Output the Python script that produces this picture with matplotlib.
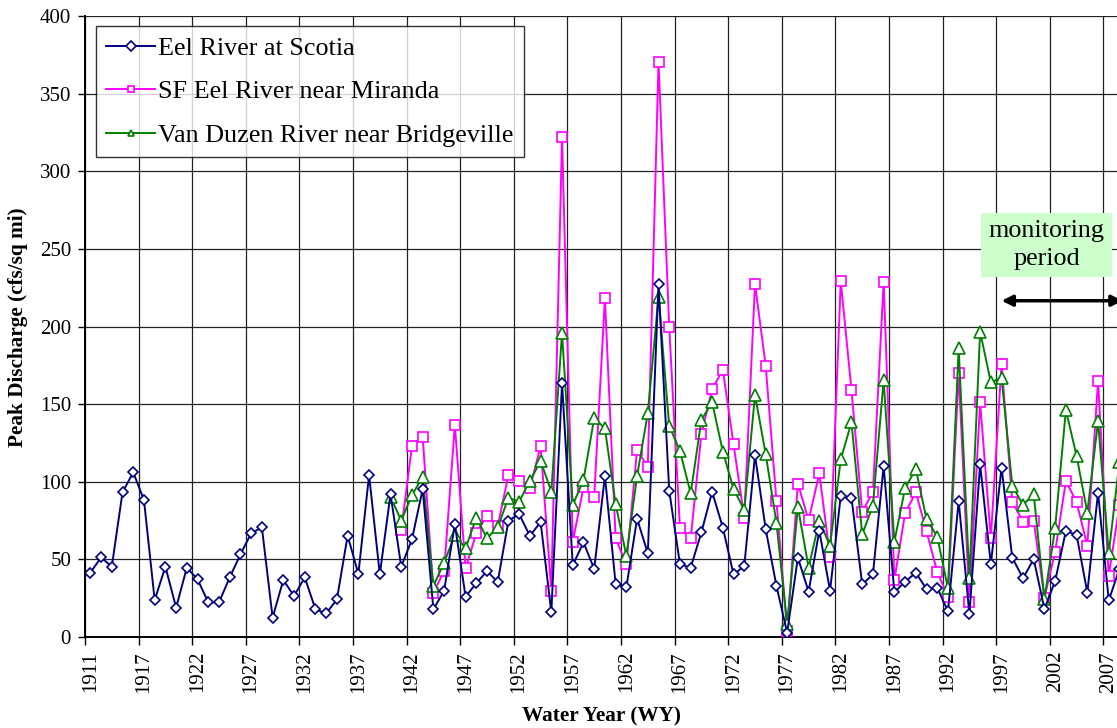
import numpy as np
import matplotlib
matplotlib.use('Agg')
import matplotlib.pyplot as plt

plt.rcParams['font.family'] = ['Liberation Serif', 'DejaVu Serif']

# Water years (1912 has no record, so the category list skips it)
years = [1911] + list(range(1913, 2009))

eel_scotia = [41.4, 51.3, 45.3, 93.2, 106.1, 88.2, 23.8, 45.3, 18.9, 44.7,
              37.1, 22.3, 22.3, 38.4, 53.2, 66.8, 70.6, 12.5, 36.7, 26.4,
              38.4, 17.8, 15.2, 24.2, 65.3, 40.6, 104.3, 40.3, 92.1, 45.3,
              62.9, 95.3, 17.8, 29.8, 72.6, 26.0, 34.6, 42.5, 35.4, 74.9,
              79.2, 65.1, 74.1, 15.9, 163.4, 46.2, 61.0, 43.8, 103.7, 34.1,
              32.0, 76.2, 53.9, 227.4, 94.2, 46.8, 44.7, 67.4, 93.6, 70.4,
              40.3, 45.7, 117.0, 69.4, 32.9, 2.8, 51.1, 29.2, 68.5, 29.8,
              91.0, 89.7, 33.9, 40.3, 110.1, 28.8, 35.6, 41.4, 30.9, 31.8,
              16.5, 87.6, 14.6, 111.2, 46.8, 109.1, 51.1, 37.8, 50.2, 18.0,
              36.1, 68.3, 65.7, 28.6, 93.0, 23.6, 44.0]

sf_eel_miranda = [np.nan] * 29 + [
              68.9, 123.0, 129.0, 28.6, 42.5, 136.6, 44.2, 66.8, 78.2, 71.5,
              104.3, 100.5, 95.8, 123.0, 29.8, 322.0, 61.4, 96.4, 90.4, 218.1,
              63.6, 46.8, 120.4, 109.7, 370.4, 199.5, 70.0, 63.6, 130.8, 159.7,
              172.0, 124.1, 76.9, 227.4, 174.6, 87.6, 3.9, 98.8, 75.1, 105.4,
              51.7, 229.3, 159.1, 80.7, 93.2, 228.7, 36.7, 79.7, 93.2, 68.1,
              41.9, 26.0, 170.3, 22.3, 151.2, 63.6, 176.0, 87.2, 74.3, 74.7,
              25.3, 55.0, 100.5, 86.8, 58.8, 164.9, 39.4, 85.0]

van_duzen = [np.nan] * 28 + [
              90.4, 74.9, 91.5, 102.9, 32.9, 47.9, 65.7, 57.1, 76.9, 63.6,
              70.6, 89.7, 87.2, 100.5, 113.4, 93.6, 196.0, 85.0, 101.1, 140.9,
              134.4, 85.5, 52.4, 103.7, 144.1, 219.2, 135.9, 119.8, 92.5, 139.8,
              151.2, 119.4, 95.3, 81.8, 155.9, 117.7, 73.6, 8.4, 83.9, 44.7,
              74.9, 58.8, 114.4, 138.3, 66.1, 84.6, 165.5, 61.4, 95.8, 108.2,
              76.0, 64.6, 31.3, 186.0, 37.8, 196.7, 164.0, 167.0, 97.5, 85.0,
              91.9, 24.5, 70.4, 146.2, 116.6, 80.1, 139.1, 53.9, 113.0]

x = np.arange(len(years))

fig = plt.figure(figsize=(11.17, 7.28), dpi=100)
W, H = 1117, 728
ax = fig.add_axes([85 / W, (H - 637) / H, (W - 85) / W, 621 / H])

ax.plot(x, eel_scotia, color='#000080', lw=1.4, marker='D', ms=5.5,
        mfc='white', mec='#000080', mew=1.2, label='Eel River at Scotia', zorder=5)
ax.plot(x, sf_eel_miranda, color='#FF00FF', lw=1.4, marker='s', ms=7.5,
        mfc='white', mec='#FF00FF', mew=1.2, label='SF Eel River near Miranda', zorder=3)
ax.plot(x, van_duzen, color='#008000', lw=1.4, marker='^', ms=8,
        mfc='white', mec='#008000', mew=1.2, label='Van Duzen River near Bridgeville', zorder=4)

# category axis: gridlines between categories every 5 years, labels on the category
ax.set_xlim(-0.5, (W - 85) / 10.72 - 0.5)
ax.set_ylim(0, 400)
bounds = np.arange(-0.5, len(years), 5)
ax.set_xticks(bounds)
ax.set_xticklabels([])
lab_idx = np.arange(0, len(years) - 1, 5)
ax.set_xticks(lab_idx, minor=True)
ax.set_xticklabels([str(years[i]) for i in lab_idx], minor=True, rotation=90, fontsize=15)
ax.tick_params(axis='x', which='major', length=6, width=1, direction='out', color='black')
ax.tick_params(axis='x', which='minor', length=0, pad=10)
ax.set_yticks(np.arange(0, 401, 50))
ax.tick_params(axis='y', length=5, width=1, direction='out', labelsize=15, pad=5)

ax.grid(True, which='major', color='#222222', lw=0.9)
ax.set_axisbelow(True)
for s in ['top', 'right']:
    ax.spines[s].set_visible(False)
for s in ['left', 'bottom']:
    ax.spines[s].set_linewidth(1.4)

fig.text(18 / W, 1 - 327 / H, 'Peak Discharge (cfs/sq mi)', rotation=90,
         ha='center', va='center', fontsize=15.3, fontweight='bold')
fig.text(601 / W, 1 - 716 / H, 'Water Year (WY)', ha='center', va='center',
         fontsize=15.3, fontweight='bold')

leg = ax.legend(loc='upper left', bbox_to_anchor=(96 / W, 1 - 26 / H),
                bbox_transform=fig.transFigure, borderaxespad=0, fontsize=18.8,
                frameon=True, fancybox=False, handlelength=1.85, handletextpad=0.12,
                labelspacing=0.78, borderpad=0.4, numpoints=1)
leg.get_frame().set_edgecolor('black')
leg.get_frame().set_linewidth(1.0)
for h in leg.legend_handles:
    h.set_markersize(5)

ax.text(89.2, 252.5, 'monitoring\nperiod', ha='center', va='center', fontsize=18.8,
        linespacing=1.3,
        bbox=dict(boxstyle='square,pad=0.3', facecolor='#CCFFCC', edgecolor='none'),
        zorder=6)
ax.annotate('', xy=(85.0, 216.6), xytext=(96.3, 216.6),
            arrowprops=dict(arrowstyle='<|-|>', color='black', lw=2.5,
                            mutation_scale=16, shrinkA=0, shrinkB=0),
            annotation_clip=False, zorder=6)

fig.savefig('out.png', dpi=100)
